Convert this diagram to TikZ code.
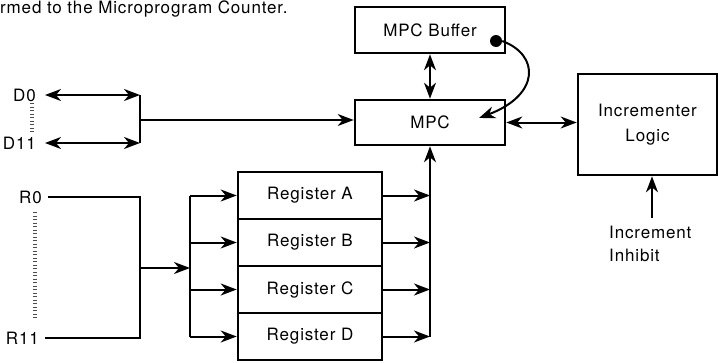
\documentclass[tikz,border=0pt]{standalone}
\usepackage{fontspec}
\setmainfont{TeX Gyre Heros}[LetterSpace=5]
\usetikzlibrary{positioning,arrows.meta}

\begin{document}
\begin{tikzpicture}[x=1pt,y=-1pt,
  txt/.style={font=\fontsize{17}{25}\selectfont, inner sep=0pt},
  blk/.style={draw, line width=2.6pt, txt, align=center},
  wire/.style={line width=2pt},
  tip/.style={-{Stealth[length=16pt,width=12pt,inset=5pt]}},
  dbl/.style={wire,{Stealth[length=16pt,width=12pt,inset=5pt]}-{Stealth[length=16pt,width=12pt,inset=5pt]}},
  dots/.style={line width=4pt, dash pattern=on 1pt off 2.5pt, black!70}]

\useasboundingbox (0,0) rectangle (718,362);

% caption line at the top
\node[txt, anchor=base west] (cap) at (0,13.5) {rmed to the Microprogram Counter.};

% blocks
\node[blk, minimum width=150pt, minimum height=46pt] (buf) at (430,30) {MPC Buffer};
\node[blk, minimum width=150pt, minimum height=45pt] (mpc) at (430,122.5) {MPC};
\node[blk, minimum width=139pt, minimum height=101pt] (inc) at (647.5,124.5) {Incrementer\\Logic};
\foreach \r/\y in {A/195.5,B/242.5,C/289.5,D/336.5}
  \node[blk, minimum width=144pt, minimum height=47pt] (reg\r) at (310,\y) {Register \r};

% labels
\node[txt, anchor=east] (d0) at (36,95) {D0};
\node[txt, anchor=east] (d11) at (36,143) {D11};
\node[txt, anchor=east] (r0) at (42,197) {R0};
\node[txt, anchor=east] (r11) at (39,338) {R11};
\node[txt, anchor=north west, align=left, font=\fontsize{17}{23}\selectfont] (inh) at (609,226) {Increment\\Inhibit};

\draw[dots] (32,103) -- (32,134);
\draw[dots] (35,212) -- (35,318);

% data lines
\coordinate (dbus) at (140,120);
\draw[dbl, shorten <=9pt] (d0.east) -- (d0.east -| dbus);
\draw[dbl, shorten <=9pt] (d11.east) -- (d11.east -| dbus);
\draw[wire] (d0.east -| dbus) -- (d11.east -| dbus);
\draw[wire, tip] (dbus) -- (dbus -| mpc.west);

% register lines
\coordinate (rbus) at (140,268);
\coordinate (fan) at (190,268);
\draw[wire] ([xshift=6pt]r0.east) -- (r0.east -| rbus) -- (r11.east -| rbus) -- ([xshift=6pt]r11.east);
\draw[wire, tip] (rbus) -- (fan);
\draw[wire] (fan |- regA) -- (fan |- regD);
\foreach \r in {A,B,C,D}{
  \draw[wire, tip] (fan |- reg\r) -- (reg\r.west);
  \draw[wire, tip] (reg\r.east) -- (reg\r -| mpc.south);
}
\draw[wire, tip] (regD -| mpc.south) -- (mpc.south);

% buffer and incrementer
\draw[dbl] (buf) -- (mpc);
\draw[dbl] (mpc.east) -- (mpc.east -| inc.west);
\node[circle, fill, inner sep=0pt, minimum size=12pt] (tap) at (496,41) {};
\coordinate (ret) at (479,118);
\draw[wire, tip] (tap.east) .. controls (540,55) and (540,95) .. (ret);
\coordinate (inhtop) at (652,218);
\draw[wire, tip] (inhtop) -- (inhtop |- inc.south);

\end{tikzpicture}
\end{document}
